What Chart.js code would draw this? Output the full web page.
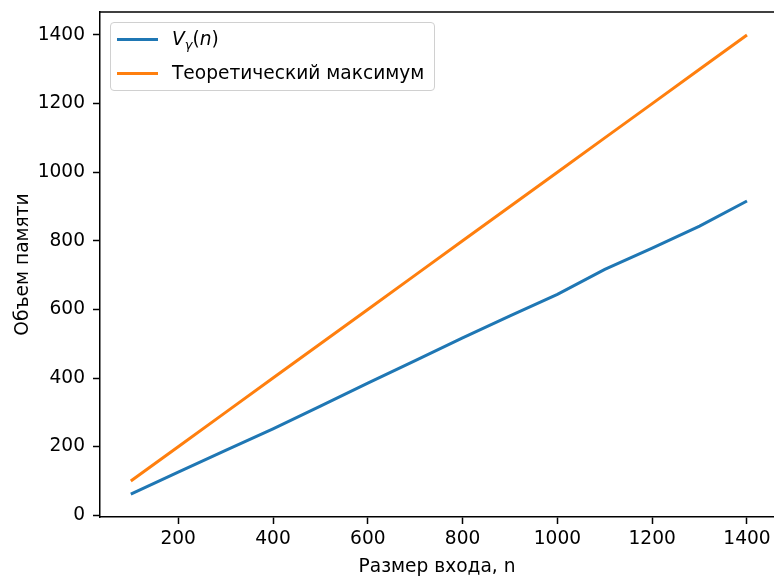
<!DOCTYPE html>
<html>
<head>
<meta charset="utf-8">
<script src="https://cdn.jsdelivr.net/npm/chart.js@4/dist/chart.umd.min.js"></script>
<style>
  body { margin: 0; background: #fff; }
  #wrap { position: relative; width: 774px; height: 576px; overflow: hidden; }
  #legend {
    position: absolute; left: 110px; top: 22px; width: 323px; height: 67px;
    border: 1px solid #d0d0d0; border-radius: 4px; background: rgba(255,255,255,0.8);
    font-family: "DejaVu Sans", sans-serif; font-size: 18.6px; color: #000;
  }
  .row { position: absolute; left: 0; height: 24px; line-height: 24px; white-space: nowrap; }
  .sw { position: absolute; left: 6px; top: 10.5px; width: 41px; height: 3px; }
  .lab { position: absolute; left: 61px; top: 0; }
  .lab i { font-style: oblique; }
  .lab sub { font-size: 70%; vertical-align: -4px; line-height: 0; }
</style>
</head>
<body>
<div id="wrap">
  <canvas id="chart" width="774" height="576"></canvas>
  <div id="legend">
    <div class="row" style="top:4px"><span class="sw" style="background:#1f77b4"></span><span class="lab"><i>V</i><sub><i>γ</i></sub>(<i>n</i>)</span></div>
    <div class="row" style="top:38px"><span class="sw" style="background:#ff7f0e"></span><span class="lab">Теоретический максимум</span></div>
  </div>
</div>
<script>
// data
const sizes = [100, 200, 300, 400, 500, 600, 700, 800, 900, 1000, 1100, 1200, 1300, 1400];
const memoryUsed = [62, 126, 189, 252, 318, 385, 451, 517, 581, 644, 717, 779, 843, 916];
const theoreticalMax = [100, 200, 300, 400, 500, 600, 700, 800, 900, 1000, 1100, 1200, 1300, 1400];
const xTicks = [200, 400, 600, 800, 1000, 1200, 1400];
const yTicks = [0, 200, 400, 600, 800, 1000, 1200, 1400];

const font = { family: "DejaVu Sans", size: 18.6 };

const topSpine = {
  id: "topSpine",
  afterDraw(chart) {
    const { ctx, chartArea } = chart;
    ctx.save();
    ctx.strokeStyle = "#000";
    ctx.lineWidth = 1.5;
    ctx.beginPath();
    ctx.moveTo(chartArea.left, chartArea.top);
    ctx.lineTo(chartArea.right, chartArea.top);
    ctx.stroke();
    ctx.restore();
  },
};

function toPoints(values) {
  return sizes.map((x, i) => ({ x: x, y: values[i] }));
}

const chart = new Chart(document.getElementById("chart"), {
  type: "line",
  data: {
    datasets: [
      {
        label: "V_γ(n)",
        data: toPoints(memoryUsed),
        borderColor: "#1f77b4",
        borderWidth: 3,
        pointRadius: 0,
        tension: 0,
      },
      {
        label: "Теоретический максимум",
        data: toPoints(theoreticalMax),
        borderColor: "#ff7f0e",
        borderWidth: 3,
        pointRadius: 0,
        tension: 0,
      },
    ],
  },
  options: {
    responsive: false,
    animation: false,
    devicePixelRatio: 1,
    layout: { padding: { top: 12, right: 0, bottom: 0, left: 0 } },
    plugins: { legend: { display: false }, tooltip: { enabled: false } },
    scales: {
      x: {
        type: "linear",
        min: 35,
        max: 1457,
        afterBuildTicks: (s) => {
          s.ticks = xTicks.map((v) => ({ value: v }));
        },
        afterFit: (s) => {
          s.height = 59;
          s.paddingLeft = 0;
          s.paddingRight = 0;
        },
        grid: { drawOnChartArea: false, drawTicks: true, tickLength: 7, tickWidth: 1.5, tickColor: "#000" },
        border: { color: "#000", width: 1.5 },
        ticks: { color: "#000", font: font, padding: 4, maxRotation: 0, autoSkip: false, callback: (v) => String(v) },
        title: { display: true, text: "Размер входа, n", color: "#000", font: font, padding: { top: 0, bottom: -2 } },
      },
      y: {
        type: "linear",
        min: -5,
        max: 1467,
        afterBuildTicks: (s) => {
          s.ticks = yTicks.map((v) => ({ value: v }));
        },
        afterFit: (s) => {
          s.width = 100;
          s.paddingTop = 0;
          s.paddingBottom = 0;
        },
        grid: { drawOnChartArea: false, drawTicks: true, tickLength: 7, tickWidth: 1.5, tickColor: "#000" },
        border: { color: "#000", width: 1.5 },
        ticks: { color: "#000", font: font, padding: 8, autoSkip: false, callback: (v) => String(v) },
        title: { display: true, text: "Объем памяти", color: "#000", font: font, padding: { top: 12, bottom: 0 } },
      },
    },
  },
  plugins: [topSpine],
});
</script>
</body>
</html>
